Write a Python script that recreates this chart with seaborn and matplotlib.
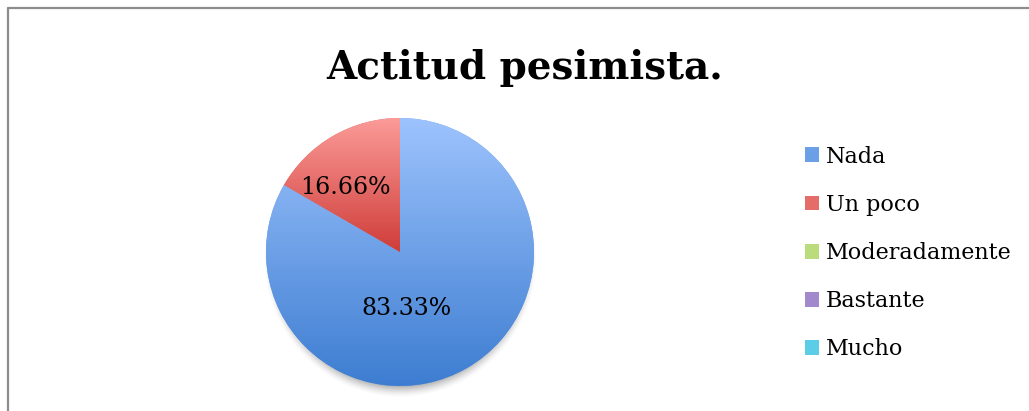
import numpy as np
import matplotlib.pyplot as plt
import seaborn as sns
from matplotlib.lines import Line2D

# data
categories = ['Nada', 'Un poco', 'Moderadamente', 'Bastante', 'Mucho']
values = [83.33, 16.66, 0, 0, 0]
pct_labels = ['83.33%', '16.66%', '', '', '']

# gradient colours per category (top, bottom)
tops = ['#9dc3fd', '#fb9b98', '#d6f1a4', '#c6b2e8', '#93e8f8']
bottoms = ['#3d7dd1', '#cf3d39', '#9fc64f', '#7e61ad', '#2fb3d6']
mids = ['#6b9fe6', '#e46d69', '#bbdc7c', '#a289cb', '#5ccde6']

sns.set_theme(style='white')
plt.rcParams['font.family'] = ['DejaVu Serif']
plt.rcParams['text.color'] = 'black'

W, H = 1029, 411
fig = plt.figure(figsize=(W / 100, H / 100), dpi=100)
fig.patch.set_facecolor('white')

# pie axes: centre (400, 252) px, radius 134 px
R = 134
lim = 1.12
half = R * lim
ax = fig.add_axes([(400 - half) / W, (H - 252 - half) / H, 2 * half / W, 2 * half / H])

wedges, _ = ax.pie(values, colors=mids, startangle=90, counterclock=False,
                   wedgeprops=dict(linewidth=0))

# soft shadow under the pie (mostly visible at the bottom)
n = 400
xs = np.linspace(-lim, lim, n)
X, Y = np.meshgrid(xs, xs)
d = np.hypot(X * 1.02, Y + 0.05)
alpha = 0.6 * np.clip((1.04 - d) / 0.1, 0, 1) ** 1.5
shadow = np.zeros((n, n, 4))
shadow[..., :3] = 0.38
shadow[..., 3] = alpha
ax.imshow(shadow, extent=[-lim, lim, -lim, lim], origin='lower', zorder=0.5,
          interpolation='bilinear')

# gradient fill for each wedge
for w, top, bot in zip(wedges, tops, bottoms):
    if abs(w.theta2 - w.theta1) < 1e-6:
        continue
    w.set_zorder(1)
    ext = w.get_path().get_extents()
    c0 = np.array(plt.matplotlib.colors.to_rgb(bot))
    c1 = np.array(plt.matplotlib.colors.to_rgb(top))
    t = np.linspace(0, 1, 256)[:, None, None]
    grad = c0 + (c1 - c0) * t
    im = ax.imshow(grad, extent=[ext.x0, ext.x1, ext.y0, ext.y1], origin='lower',
                   aspect='auto', zorder=2, interpolation='bilinear')
    im.set_clip_path(w)

ax.set_xlim(-lim, lim)
ax.set_ylim(-lim, lim)
ax.set_aspect('equal')
ax.axis('off')

# percentage labels
ax.text(0.05, -0.42, pct_labels[0], ha='center', va='center', fontsize=17,
        color='black', zorder=5)
ax.text(-0.41, 0.485, pct_labels[1], ha='center', va='center', fontsize=17,
        color='black', zorder=5)

# title
fig.text(525 / W, 1 - 68 / H, 'Actitud pesimista.', ha='center', va='center',
         fontsize=28, fontweight='bold', color='black')

# legend
leg = fig.legend(wedges, categories, loc='center left',
                 bbox_to_anchor=(796 / W, 1 - 253 / H), frameon=False,
                 fontsize=16, labelspacing=1.18, handlelength=0.65, handleheight=0.65,
                 handletextpad=0.3, borderaxespad=0)
for txt in leg.get_texts():
    txt.set_color('black')

# chart border (left and top)
fig.add_artist(Line2D([7.5 / W, 7.5 / W], [0, 1 - 8 / H], transform=fig.transFigure,
                      color='#8c8c8c', lw=1.6))
fig.add_artist(Line2D([7.5 / W, 1], [1 - 8 / H, 1 - 8 / H], transform=fig.transFigure,
                      color='#8c8c8c', lw=1.6))

fig.savefig('out.png', dpi=100)
